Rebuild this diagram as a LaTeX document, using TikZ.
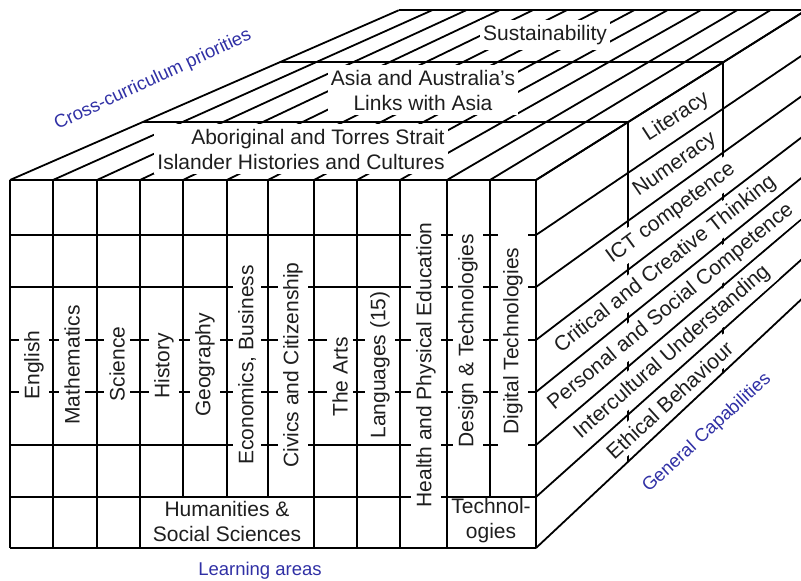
\documentclass[tikz,border=0pt]{standalone}
\usepackage{fontspec}
\setmainfont{Liberation Sans}
\usetikzlibrary{calc}
\definecolor{capblue}{RGB}{48,48,165}
\definecolor{inkgrey}{RGB}{30,30,30}
\begin{document}
\begin{tikzpicture}[x=1pt,y=-1pt,
  edge/.style={line width=1.8pt, black},
  heavy/.style={line width=2.6pt, black},
  txt/.style={text=inkgrey, font=\fontsize{21}{25}\selectfont, inner xsep=3pt, inner ysep=5pt},
  cover/.style={txt, fill=white},
  subject/.style={cover, rotate=90},
  axislabel/.style={text=capblue, font=\fontsize{18.5}{22}\selectfont, inner sep=0pt},
  line join=round]
\useasboundingbox (0,0) rectangle (801,581);
\clip (0,0) rectangle (801,581);

% vanishing point of the depth direction; the far face is the front face scaled by 0.774 about it
\coordinate (V) at (1730,-571);

% column boundaries on the top front edge, and where they end at the back
\foreach \i/\x in {0/10,1/53,2/97,3/140,4/183,5/227,6/268,7/314,8/357,9/400,10/447,11/490,12/536} {
  \coordinate (c\i) at (\x,180);
  \coordinate (cb\i) at ($(V)!0.774!(c\i)$);
}
% row boundaries on the left and right front edges, and the far ends of the right ones
\foreach \j/\y in {0/180,1/235,2/287,3/340,4/392,5/445,6/497,7/548} {
  \coordinate (l\j) at (10,\y);
  \coordinate (r\j) at (536,\y);
  \coordinate (rb\j) at ($(V)!0.774!(r\j)$);
}

% ---- top face: columns running back, three priority bands
\foreach \i in {0,...,12} \draw[edge] (c\i) -- (cb\i);
\draw[edge] (cb0) -- (cb12);
\draw[edge] ($(c0)!0.341!(cb0)$) -- ($(c12)!0.341!(cb12)$);
\draw[edge] ($(c0)!0.694!(cb0)$) -- ($(c12)!0.694!(cb12)$);

% ---- right face: rows running back, cut at the same depths
\foreach \j in {0,...,7} \draw[edge] (r\j) -- (rb\j);
\draw[edge] ($(r0)!0.341!(rb0)$) -- ($(r7)!0.341!(rb7)$);
\draw[edge] ($(r0)!0.694!(rb0)$) -- ($(r7)!0.694!(rb7)$);

% ---- front face grid
\foreach \j in {0,...,6} \draw[edge] (l\j) -- (r\j);
\draw[heavy] (l7) -- (r7);
\foreach \i in {0,1,2,3,7,8,9,10} \draw[edge] (c\i) -- (c\i |- r7);
\foreach \i in {4,5,6} \draw[edge] (c\i) -- (c\i |- r6);
\draw[heavy] (c11) -- (c11 |- r6);

% ---- learning areas
\node[subject] (english)   at (34,365)  {English};
\node[subject] (maths)     at (72,365)  {Mathematics};
\node[subject] (science)   at (117,364) {Science};
\node[subject] (history)   at (164,366) {History};
\node[subject] (geography) at (205,365) {Geography};
\node[subject] (economics) at (247,365) {Economics, Business};
\node[subject] (civics)    at (293,365) {Civics and Citizenship};
\node[subject] (arts)      at (340,377) {The Arts};
\node[subject] (languages) at (380,365) {Languages (15)};
\node[subject] (hpe)       at (426,365) {Health and Physical Education};
\node[subject] (design)    at (468,341) {Design \& Technologies};
\node[subject, minimum width=222pt] (digital) at (513,341) {Digital Technologies};
\node[txt, align=center] (hass) at (227,521) {Humanities \&\\Social Sciences};
\node[txt, align=center] (tech) at (491,521) {Technol-\\ogies};

% ---- cross-curriculum priorities
\node[cover, align=right]  (atsi)   at (301,149) {Aboriginal and Torres Strait\\Islander Histories and Cultures};
\node[cover, align=center] (asia)   at (423,90)  {Asia and Australia’s\\Links with Asia};
\node[cover]               (sustain) at (545,35) {Sustainability};

% ---- general capabilities
\node[txt, rotate=33.1]   (literacy)  at (676.3,117.0) {Literacy};
\node[txt, rotate=34.9]   (numeracy)  at (675.0,165.2) {Numeracy};
\node[cover, rotate=36.5] (ict)       at (671.0,213.6) {ICT competence};
\node[cover, rotate=38.1] (critical)  at (665.5,264.4) {Critical and Creative Thinking};
\node[cover, rotate=39.6] (personal)  at (671.0,306.7) {Personal and Social Competence};
\node[cover, rotate=41.1] (intercult) at (672.2,352.1) {Intercultural Understanding};
\node[cover, rotate=42.5] (ethical)   at (669.6,400.2) {Ethical Behaviour};

% front right edge stays on top
\draw[heavy] (c12) -- (r7);

% ---- dimension captions
\node[axislabel, rotate=25]   (ccp) at (153,80)  {Cross-curriculum priorities};
\node[axislabel, rotate=42.5] (gc)  at (707,433) {General Capabilities};
\node[axislabel]              (la)  at (260,571) {Learning areas};
\end{tikzpicture}
\end{document}
